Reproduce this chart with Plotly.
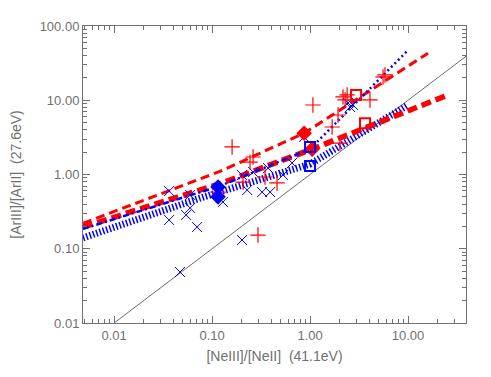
import plotly.graph_objects as go

# ---- data ----
# red plus signs
red_x = [0.16, 0.262, 0.244, 0.294, 0.207, 0.46, 0.347, 0.115, 1.07, 2.17, 2.39, 2.28,
         4.09, 1.93, 1.68, 2.02, 5.82, 5.56]
red_y = [2.35, 1.72, 1.47, 0.153, 0.79, 0.77, 0.925, 0.58, 8.63, 11.1, 11.8, 10.1,
         10.1, 6.33, 4.36, 2.65, 21.9, 20.6]

# blue crosses
blue_x = [0.0364, 0.0364, 0.0597, 0.0543, 0.0597, 0.0703, 0.047, 0.202, 0.129, 0.202,
          0.228, 0.324, 0.391, 0.262, 0.373, 0.53, 0.655, 2.44, 2.75, 2.56, 0.87]
blue_y = [0.6, 0.244, 0.53, 0.285, 0.354, 0.196, 0.0486, 0.131, 0.427, 0.985,
          0.618, 0.58, 0.58, 1.08, 1.22, 0.985, 1.43, 9.18, 8.63, 8.11, 3.2]

# filled diamonds
diam_blue_x = [0.115, 0.115]
diam_blue_y = [0.68, 0.5]
diam_red_x = [0.87, 1.05]
diam_red_y = [3.6, 2.2]

# open squares
sq_red_x = [2.95, 3.64]
sq_red_y = [11.8, 4.9]
sq_blue_x = [1.0, 1.0]
sq_blue_y = [2.35, 1.3]

# model tracks
track1_x = [0.0048, 0.12, 0.87, 16]
track1_y = [0.22, 1.1, 3.6, 43]
track2_x = [0.0048, 0.12, 1.05, 24]
track2_y = [0.196, 0.75, 2.2, 11.4]
track3a_x = [0.0048, 0.12, 1.0]
track3a_y = [0.185, 0.70, 2.2]
track3b_x = [1.0, 9.8]
track3b_y = [2.2, 46]
track4_x = [0.0048, 0.075, 1.0, 9.8]
track4_y = [0.14, 0.48, 1.38, 8.5]

# one-to-one line
unity = [0.01, 40]

major_vals = [0.01, 0.1, 1, 10, 100]
x_labels = ["0.01", "0.10", "1.00", "10.00", ""]
y_labels = ["0.01", "0.10", "1.00", "10.00", "100.00"]
minor_vals = [m * d for d in [0.001, 0.01, 0.1, 1, 10] for m in range(2, 10)]

RED = "#ff0000"
BLUE = "#0000ff"
GREY = "#707070"

fig = go.Figure()

fig.add_trace(go.Scatter(x=unity, y=unity, mode="lines",
                         line=dict(color="#444444", width=0.8)))

# thick blue hatched track
fig.add_trace(go.Scatter(x=track4_x, y=track4_y, mode="lines",
                         line=dict(color=BLUE, width=7, dash="1.5px,2px")))
# red tracks
fig.add_trace(go.Scatter(x=track2_x, y=track2_y, mode="lines",
                         line=dict(color=RED, width=5.5, dash="10px,5px")))
fig.add_trace(go.Scatter(x=track1_x, y=track1_y, mode="lines",
                         line=dict(color=RED, width=3, dash="9px,5px")))
# blue thin tracks
fig.add_trace(go.Scatter(x=track3a_x, y=track3a_y, mode="lines",
                         line=dict(color=BLUE, width=2.5, dash="6px,3px,2px,3px")))
fig.add_trace(go.Scatter(x=track3b_x, y=track3b_y, mode="lines",
                         line=dict(color=BLUE, width=2.5, dash="2px,3px")))

fig.add_trace(go.Scatter(x=blue_x, y=blue_y, mode="markers",
                         marker=dict(symbol="x-thin", size=10, color=BLUE,
                                     line=dict(color=BLUE, width=1))))
fig.add_trace(go.Scatter(x=red_x, y=red_y, mode="markers",
                         marker=dict(symbol="cross-thin", size=11, color=RED,
                                     line=dict(color=RED, width=1.2))))

fig.add_trace(go.Scatter(x=diam_blue_x, y=diam_blue_y, mode="markers",
                         marker=dict(symbol="diamond", size=12, color=BLUE)))
fig.add_trace(go.Scatter(x=diam_red_x, y=diam_red_y, mode="markers",
                         marker=dict(symbol="diamond", size=12, color=RED)))
fig.add_trace(go.Scatter(x=sq_red_x, y=sq_red_y, mode="markers",
                         marker=dict(symbol="square-open", size=10, color=RED,
                                     line=dict(color=RED, width=2))))
fig.add_trace(go.Scatter(x=sq_blue_x, y=sq_blue_y, mode="markers",
                         marker=dict(symbol="square-open", size=10, color=BLUE,
                                     line=dict(color=BLUE, width=2))))

axis_style = dict(
    type="log", automargin=False,
    showline=True, linecolor=GREY, linewidth=1, mirror="ticks",
    ticks="inside", ticklen=7, tickcolor=GREY, tickwidth=1,
    tickmode="array", tickvals=major_vals,
    minor=dict(tickmode="array", tickvals=minor_vals, ticks="inside",
               ticklen=4, tickcolor=GREY, tickwidth=1, showgrid=False),
    showgrid=False, zeroline=False,
    tickfont=dict(family="Liberation Sans", size=13, color=GREY),
)

fig.update_xaxes(axis_style)
fig.update_yaxes(axis_style)
fig.update_xaxes(range=[-2.318, 1.592], ticktext=x_labels,
                 title=dict(text="[NeIII]/[NeII]  (41.1eV)", standoff=9,
                            font=dict(family="Liberation Sans", size=14, color=GREY)))
fig.update_yaxes(range=[-2, 2], ticktext=y_labels,
                 title=dict(text="[ArIII]/[ArII]  (27.6eV)", standoff=16,
                            font=dict(family="Liberation Sans", size=14, color=GREY)))

# page body has an 8px margin, so the figure is drawn 8px smaller and shifted
fig.update_layout(
    width=483, height=369,
    margin=dict(l=75, r=25, t=18, b=54),
    paper_bgcolor="white", plot_bgcolor="white",
    showlegend=False,
)

fig.write_html("out.html")
